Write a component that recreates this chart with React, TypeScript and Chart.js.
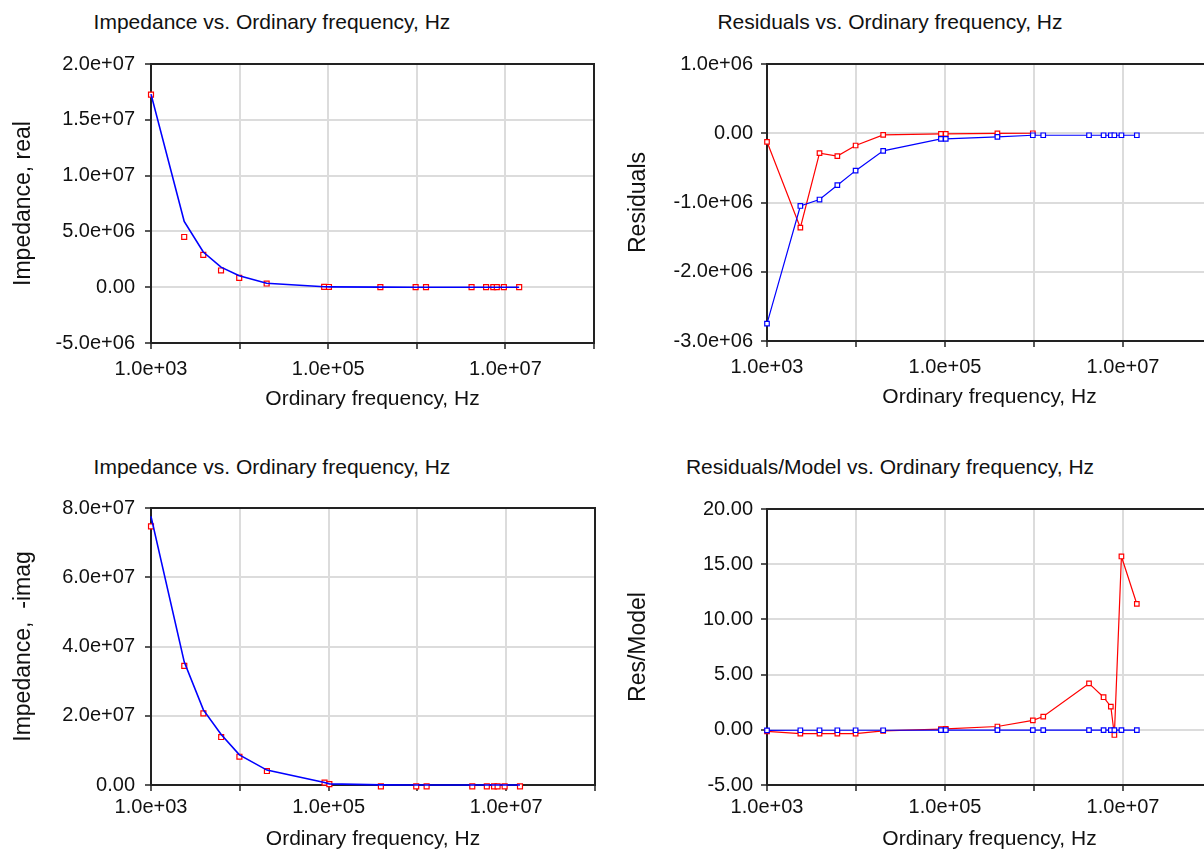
import React, { useEffect, useRef } from 'react';
import { Chart, registerables } from 'chart.js';

Chart.register(...registerables);

// ---------- data ----------
const FREQ = [1000, 2370, 3890, 6170, 9900, 20200, 90000, 102000, 388000, 970000, 1270000, 4150000, 6050000, 7300000, 8000000, 9600000, 14300000];

const REAL_DATA = [17250000, 4500000, 2900000, 1500000, 840000, 330000, 30000, 20000, 6000, 2000, 1500, 600, 400, 300, 300, 200, 150];
const REAL_MODEL = [17300000, 5900000, 3150000, 1800000, 1020000, 355000, 40000, 30000, 8000, 2000, 1500, 600, 400, 300, 300, 200, 150];

const IMAG_DATA = [74700000, 34400000, 20700000, 13850000, 8170000, 4040000, 670000, 250000, -400000, -400000, -400000, -400000, -400000, -400000, -400000, -400000, -400000];
const IMAG_MODEL = [77600000, 35500000, 21700000, 14600000, 8700000, 4300000, 750000, 330000, 50000, 20000, 10000, 5000, 3000, 2000, 2000, 1500, 1000];

const RES_REAL = [-124000, -1364000, -287000, -330000, -177000, -24000, -10000, -10000, -3000, 0];
const RES_IMAG = [-2750000, -1050000, -957000, -750000, -540000, -254000, -81000, -81000, -53000, -29000, -29000, -29000, -29000, -29000, -29000, -29000, -29000];

const RESMOD_REAL = [-0.15, -0.35, -0.35, -0.35, -0.35, -0.1, 0.06, 0.08, 0.3, 0.85, 1.2, 4.2, 2.95, 2.1, -0.47, 15.7, 11.4];
const RESMOD_IMAG = [-0.05, -0.04, -0.04, -0.04, -0.04, -0.04, -0.03, -0.03, -0.03, -0.03, -0.03, -0.03, -0.03, -0.03, -0.03, -0.03, -0.03];

const X_TICKS = [1e3, 1e4, 1e5, 1e6, 1e7, 1e8];
const X_LABELED = [1e3, 1e5, 1e7];

const Y_TICKS_REAL = [-5e6, 0, 5e6, 1e7, 1.5e7, 2e7];
const Y_TICKS_RES = [-3e6, -2e6, -1e6, 0, 1e6];
const Y_TICKS_IMAG = [0, 2e7, 4e7, 6e7, 8e7];
const Y_TICKS_RESMOD = [-5, 0, 5, 10, 15, 20];

const TITLE_MAIN = 'Impedance vs. Ordinary frequency, Hz';
const TITLE_RES = 'Residuals vs. Ordinary frequency, Hz';
const TITLE_RESMOD = 'Residuals/Model vs. Ordinary frequency, Hz';
const X_TITLE = 'Ordinary frequency, Hz';

// ---------- helpers ----------
const FONT = "'Liberation Sans', Arial, sans-serif";
const RED = '#ff0000';
const BLUE = '#0000ff';

function fmtExp(v: number): string {
  if (Math.abs(v) < 1e-12) return '0.00';
  return v.toExponential(1).replace(/e([+-])(\d)$/, 'e$10$2');
}
function fmtFix(v: number): string {
  return v.toFixed(2);
}
function pts(xs: number[], ys: number[]) {
  return ys.map((y, i) => ({ x: xs[i], y }));
}

const boxPlugin = {
  id: 'plotBox',
  beforeDatasetsDraw(chart: any) {
    const { ctx, chartArea: a } = chart;
    ctx.save();
    ctx.strokeStyle = '#222';
    ctx.lineWidth = 2;
    ctx.strokeRect(a.left, a.top, a.right - a.left, a.bottom - a.top);
    ctx.restore();
  },
};

type Geo = { cl: number; ct: number; cw: number; ch: number; left: number; top: number; right: number; bottom: number };

type PanelProps = {
  geo: Geo;
  datasets: any[];
  yTicks: number[];
  yFmt: (v: number) => string;
  yTitle: string;
  yTitlePad: number;
  yTickPad: number;
  xTickPad: number;
  xTitleOffset: number;
};

function Panel({ geo, datasets, yTicks, yFmt, yTitle, yTitlePad, yTickPad, xTickPad, xTitleOffset }: PanelProps) {
  const ref = useRef<HTMLCanvasElement>(null);
  useEffect(() => {
    const canvas = ref.current;
    if (!canvas) return;
    const xH = geo.ct + geo.ch - geo.bottom;
    const yW = geo.left - geo.cl;
    const xTitleLH = 21 * 1.2;
    const chart = new Chart(canvas, {
      type: 'line',
      data: { datasets },
      options: {
        animation: false,
        responsive: false,
        maintainAspectRatio: false,
        devicePixelRatio: 1,
        layout: { padding: { top: geo.top - geo.ct, right: geo.cl + geo.cw - geo.right, left: 0, bottom: 0 } },
        plugins: { legend: { display: false }, tooltip: { enabled: false }, title: { display: false } },
        scales: {
          x: {
            type: 'logarithmic',
            min: 1e3,
            max: 1e8,
            afterBuildTicks: (s: any) => {
              s.ticks = X_TICKS.map((v) => ({ value: v }));
            },
            afterFit: (s: any) => {
              s.height = xH;
            },
            ticks: {
              autoSkip: false,
              maxRotation: 0,
              minRotation: 0,
              padding: xTickPad,
              color: '#111',
              font: { family: FONT, size: 20 },
              callback: (v: any) => (X_LABELED.includes(Number(v)) ? fmtExp(Number(v)) : ''),
            },
            grid: { color: '#dcdcdc', lineWidth: 2, tickColor: '#222', tickLength: 6, tickWidth: 1.5 },
            border: { color: '#222', width: 2 },
            title: {
              display: true,
              text: X_TITLE,
              color: '#111',
              font: { family: FONT, size: 21 },
              padding: { top: 0, bottom: xH - xTitleOffset - xTitleLH / 2 },
            },
          },
          y: {
            type: 'linear',
            min: yTicks[0],
            max: yTicks[yTicks.length - 1],
            afterBuildTicks: (s: any) => {
              s.ticks = yTicks.map((v) => ({ value: v }));
            },
            afterFit: (s: any) => {
              s.width = yW;
            },
            ticks: {
              padding: yTickPad,
              color: '#111',
              font: { family: FONT, size: 20 },
              callback: (v: any) => yFmt(Number(v)),
            },
            grid: { color: '#dcdcdc', lineWidth: 2, tickColor: '#222', tickLength: 6, tickWidth: 1.5 },
            border: { color: '#222', width: 2 },
            title: {
              display: true,
              text: yTitle,
              color: '#111',
              font: { family: FONT, size: 23 },
              padding: { top: yTitlePad, bottom: 0 },
            },
          },
        },
      },
      plugins: [boxPlugin],
    } as any);
    return () => chart.destroy();
  }, []);
  return (
    <canvas
      ref={ref}
      width={geo.cw}
      height={geo.ch}
      style={{ position: 'absolute', left: geo.cl, top: geo.ct, width: geo.cw, height: geo.ch }}
    />
  );
}

function modelLine(ys: number[]) {
  return {
    data: pts(FREQ, ys),
    borderColor: BLUE,
    borderWidth: 1.6,
    pointRadius: 0,
    tension: 0,
    order: 0,
    clip: false,
  };
}
function dataMarks(ys: number[]) {
  return {
    data: pts(FREQ, ys),
    showLine: false,
    pointStyle: 'rect',
    pointRadius: 3.5,
    pointBorderColor: RED,
    pointBackgroundColor: '#ffffff',
    pointBorderWidth: 1.2,
    borderColor: RED,
    order: 1,
    clip: false,
  };
}
function resLine(ys: number[], color: string, order: number) {
  return {
    data: pts(FREQ, ys),
    borderColor: color,
    borderWidth: 1.2,
    pointStyle: 'rect',
    pointRadius: 3.2,
    pointBorderColor: color,
    pointBackgroundColor: '#ffffff',
    pointBorderWidth: 1.2,
    tension: 0,
    order,
    clip: false,
  };
}

function Title({ text, cx, cy }: { text: string; cx: number; cy: number }) {
  return (
    <div
      style={{
        position: 'absolute',
        left: cx - 300,
        width: 600,
        top: cy - 12,
        height: 24,
        lineHeight: '24px',
        textAlign: 'center',
        fontFamily: FONT,
        fontSize: 21,
        color: '#111',
        whiteSpace: 'nowrap',
      }}
    >
      {text}
    </div>
  );
}

export default function App() {
  const geoTL: Geo = { cl: 0, ct: 0, cw: 602, ch: 430, left: 151, top: 64, right: 595, bottom: 343 };
  const geoBL: Geo = { cl: 0, ct: 430, cw: 602, ch: 440, left: 151, top: 508, right: 595, bottom: 785 };
  const geoTR: Geo = { cl: 602, ct: 0, cw: 620, ch: 430, left: 767, top: 64, right: 1212, bottom: 341 };
  const geoBR: Geo = { cl: 602, ct: 430, cw: 620, ch: 440, left: 767, top: 509, right: 1212, bottom: 785 };

  return (
    <div style={{ position: 'fixed', left: 0, top: 0, width: 1204, height: 852, overflow: 'hidden', background: '#fff' }}>
      <Title text={TITLE_MAIN} cx={272} cy={22} />
      <Title text={TITLE_RES} cx={890} cy={22} />
      <Title text={TITLE_MAIN} cx={272} cy={467} />
      <Title text={TITLE_RESMOD} cx={890} cy={467} />
      <Panel
        geo={geoTL}
        datasets={[modelLine(REAL_MODEL), dataMarks(REAL_DATA)]}
        yTicks={Y_TICKS_REAL}
        yFmt={fmtExp}
        yTitle="Impedance, real"
        yTitlePad={10}
        yTickPad={10}
        xTickPad={8}
        xTitleOffset={56}
      />
      <Panel
        geo={geoBL}
        datasets={[modelLine(IMAG_MODEL), dataMarks(IMAG_DATA)]}
        yTicks={Y_TICKS_IMAG}
        yFmt={fmtExp}
        yTitle="Impedance,  -imag"
        yTitlePad={10}
        yTickPad={10}
        xTickPad={4}
        xTitleOffset={54}
      />
      <Panel
        geo={geoTR}
        datasets={[resLine(RES_IMAG, BLUE, 0), resLine(RES_REAL, RED, 1)]}
        yTicks={Y_TICKS_RES}
        yFmt={fmtExp}
        yTitle="Residuals"
        yTitlePad={23}
        yTickPad={8}
        xTickPad={8}
        xTitleOffset={56}
      />
      <Panel
        geo={geoBR}
        datasets={[resLine(RESMOD_IMAG, BLUE, 0), resLine(RESMOD_REAL, RED, 1)]}
        yTicks={Y_TICKS_RESMOD}
        yFmt={fmtFix}
        yTitle="Res/Model"
        yTitlePad={23}
        yTickPad={8}
        xTickPad={4}
        xTitleOffset={54}
      />
    </div>
  );
}
